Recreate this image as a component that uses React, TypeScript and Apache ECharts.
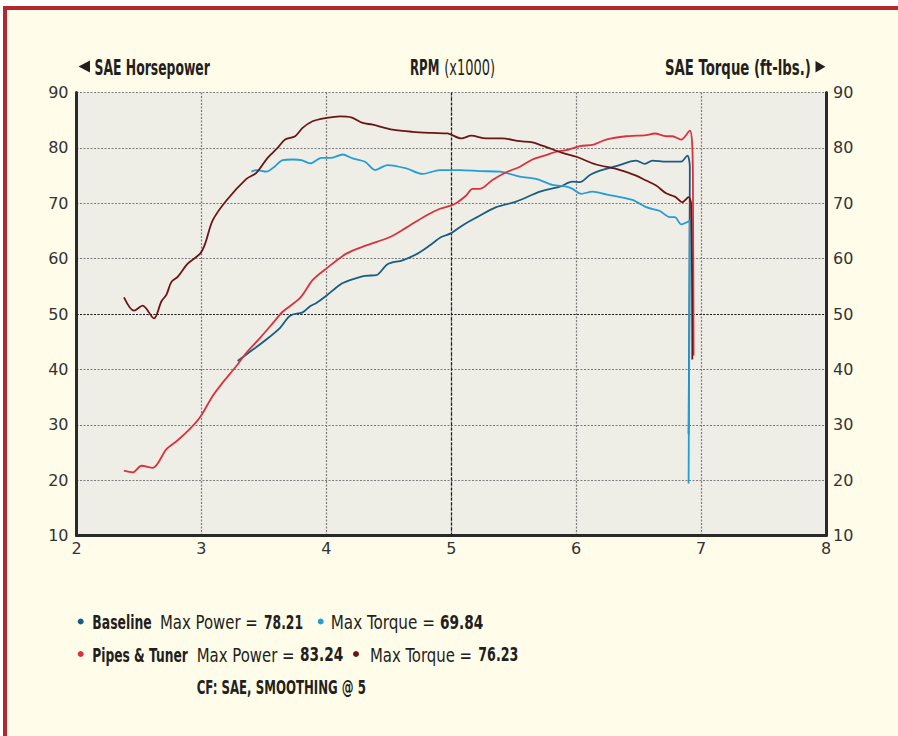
import React, { useEffect, useRef } from "react";
import * as echarts from "echarts";

// ---------- data ----------
const xTicksMin = 2;
const xTicksMax = 8;
const yTicksMin = 10;
const yTicksMax = 90;

const baselinePower: [number, number][] = [
  [3.29, 41.5], [3.36, 42.7], [3.52, 45.4], [3.63, 47.5], [3.71, 49.7], [3.81, 50.3],
  [3.87, 51.4], [3.92, 52.0], [4.0, 53.3], [4.11, 55.3], [4.19, 56.1], [4.31, 56.9],
  [4.4, 57.0], [4.49, 59.0], [4.61, 59.7], [4.73, 60.9], [4.83, 62.4], [4.92, 63.9],
  [5.0, 64.6], [5.09, 66.0], [5.2, 67.4], [5.36, 69.3], [5.52, 70.3], [5.71, 72.1],
  [5.87, 73.0], [5.97, 73.9], [6.03, 73.8], [6.11, 75.1], [6.19, 75.9], [6.32, 76.7],
  [6.48, 77.7], [6.55, 77.1], [6.61, 77.7], [6.72, 77.5], [6.84, 77.5], [6.89, 78.6],
  [6.91, 76.5], [6.9, 28.3],
];

const baselineTorque: [number, number][] = [
  [3.4, 75.7], [3.44, 76.0], [3.52, 75.7], [3.59, 76.7], [3.65, 77.8], [3.73, 77.9],
  [3.8, 77.8], [3.87, 77.2], [3.96, 78.2], [4.04, 78.2], [4.13, 78.8], [4.21, 78.1],
  [4.31, 77.5], [4.39, 76.0], [4.49, 76.9], [4.64, 76.3], [4.77, 75.3], [4.91, 76.0],
  [5.07, 76.0], [5.23, 75.8], [5.39, 75.7], [5.55, 74.8], [5.68, 74.4], [5.81, 73.3],
  [5.92, 73.0], [5.97, 72.6], [6.04, 71.7], [6.13, 72.1], [6.24, 71.6], [6.45, 70.6],
  [6.56, 69.3], [6.67, 68.6], [6.75, 67.5], [6.79, 67.5], [6.84, 66.2], [6.91, 66.9],
  [6.9, 19.4],
];

const tunerPower: [number, number][] = [
  [2.38, 21.7], [2.45, 21.4], [2.52, 22.6], [2.61, 22.2], [2.72, 25.6], [2.81, 27.2],
  [2.91, 29.3], [2.99, 31.4], [3.09, 35.2], [3.17, 37.6], [3.28, 40.6], [3.36, 43.0],
  [3.47, 45.7], [3.57, 48.3], [3.65, 50.4], [3.79, 52.9], [3.89, 56.1], [4.0, 58.2],
  [4.16, 60.9], [4.32, 62.4], [4.51, 63.9], [4.64, 65.6], [4.8, 67.8], [4.91, 69.0],
  [5.0, 69.6], [5.05, 70.2], [5.12, 71.4], [5.17, 72.6], [5.23, 72.6], [5.33, 74.2],
  [5.44, 75.6], [5.55, 76.6], [5.65, 77.9], [5.76, 78.7], [5.84, 79.3], [5.92, 79.6],
  [6.03, 80.3], [6.14, 80.6], [6.24, 81.5], [6.4, 82.1], [6.56, 82.3], [6.63, 82.6],
  [6.72, 82.1], [6.77, 82.1], [6.84, 81.5], [6.91, 83.1], [6.93, 80.0], [6.935, 72.3],
  [6.94, 42.5],
];

const tunerTorque: [number, number][] = [
  [2.38, 53.0], [2.46, 50.6], [2.53, 51.5], [2.62, 49.2], [2.68, 52.3], [2.72, 53.5],
  [2.76, 55.8], [2.81, 56.7], [2.89, 59.1], [2.99, 60.9], [3.03, 62.7], [3.09, 66.9],
  [3.2, 70.5], [3.36, 74.4], [3.44, 75.5], [3.53, 78.2], [3.61, 80.0], [3.67, 81.5],
  [3.75, 82.1], [3.81, 83.6], [3.89, 84.8], [4.0, 85.4], [4.11, 85.7], [4.2, 85.5],
  [4.29, 84.5], [4.37, 84.2], [4.53, 83.3], [4.69, 82.9], [4.85, 82.7], [4.97, 82.6],
  [5.08, 81.7], [5.16, 82.2], [5.28, 81.7], [5.41, 81.7], [5.55, 81.2], [5.65, 81.0],
  [5.79, 79.9], [5.89, 79.1], [6.0, 78.4], [6.16, 77.0], [6.32, 76.2], [6.48, 75.0],
  [6.56, 74.1], [6.64, 73.2], [6.72, 71.8], [6.79, 71.2], [6.85, 70.2], [6.9, 71.1],
  [6.92, 69.9], [6.93, 41.8],
];

const seriesNames = ["Baseline Power", "Baseline Torque", "Pipes & Tuner Power", "Pipes & Tuner Torque"];
const runNames = ["Baseline", "Pipes & Tuner"];
const maxPowerLabels = ["78.21", "83.24"];
const maxTorqueLabels = ["69.84", "76.23"];
const headerLeft = "SAE Horsepower";
const headerMidBold = "RPM";
const headerMidReg = "(x1000)";
const headerRight = "SAE Torque (ft-lbs.)";
const footnote = "CF: SAE, SMOOTHING @ 5";
const refLineX = 5;
const refLineY = 50;

// ---------- styles ----------
const C_BASE_POWER = "#185d84";
const C_BASE_TORQUE = "#239dd8";
const C_TUNER_POWER = "#d8333d";
const C_TUNER_TORQUE = "#6c1517";
const C_FRAME = "#b1282e";
const C_TEXT = "#231f20";
const NARROW = '"Liberation Sans Narrow", "DejaVu Sans Condensed", sans-serif';

let measureCtx: CanvasRenderingContext2D | null = null;
function measure(text: string, font: string) {
  if (!measureCtx) measureCtx = document.createElement("canvas").getContext("2d");
  measureCtx!.font = font;
  return measureCtx!.measureText(text).width;
}

function fitText(text: string, x: number, y: number, width: number, bold: boolean, size: number) {
  const font = `${bold ? "bold " : ""}${size}px ${NARROW}`;
  const w = measure(text, font) || width;
  return {
    type: "text",
    x,
    y,
    scaleX: width / w,
    scaleY: 1,
    silent: true,
    style: {
      text,
      font,
      fill: C_TEXT,
      textAlign: "left",
      textVerticalAlign: "middle",
      align: "left",
      verticalAlign: "middle",
    },
  };
}

function dot(x: number, y: number, color: string) {
  return { type: "circle", silent: true, shape: { cx: x, cy: y, r: 3 }, style: { fill: color } };
}

export default function App() {
  const ref = useRef<HTMLDivElement>(null);

  useEffect(() => {
    if (!ref.current) return;
    const chart = echarts.init(ref.current, undefined, { renderer: "svg" });

    const lineSeries = (name: string, data: [number, number][], color: string, extra: any = {}) => ({
      type: "line",
      name,
      data,
      smooth: 0.3,
      showSymbol: false,
      symbol: "none",
      lineStyle: { color, width: 1.8 },
      itemStyle: { color },
      z: 3,
      ...extra,
    });

    const graphic: any[] = [
      // frame
      { type: "rect", silent: true, shape: { x: 0, y: 0, width: 898, height: 6 }, style: { fill: "#ffffff" } },
      { type: "rect", silent: true, shape: { x: 0, y: 0, width: 3, height: 736 }, style: { fill: "#ffffff" } },
      { type: "rect", silent: true, shape: { x: 3, y: 6, width: 895, height: 4 }, style: { fill: C_FRAME } },
      { type: "rect", silent: true, shape: { x: 3, y: 6, width: 4, height: 730 }, style: { fill: C_FRAME } },
      // header
      { type: "polygon", silent: true, shape: { points: [[78.5, 66.5], [90, 60.5], [90, 72.5]] }, style: { fill: C_TEXT } },
      fitText(headerLeft, 94.5, 67, 115.5, true, 22),
      fitText(headerMidBold, 410, 67, 29.3, true, 22),
      fitText(headerMidReg, 444.3, 67, 50.7, false, 22),
      fitText(headerRight, 665, 67, 146, true, 22),
      { type: "polygon", silent: true, shape: { points: [[815.5, 61], [825.5, 66.8], [815.5, 72.6]] }, style: { fill: C_TEXT } },
      // legend line 1
      dot(80.7, 621.5, C_BASE_POWER),
      fitText(runNames[0], 92.3, 622, 59.4, true, 20),
      fitText("Max Power =", 160, 622, 98, false, 20),
      fitText(maxPowerLabels[0], 264, 622, 39, true, 20),
      dot(320.7, 621.5, C_BASE_TORQUE),
      fitText("Max Torque =", 330.7, 622, 104.3, false, 20),
      fitText(maxTorqueLabels[0], 440, 622, 43.3, true, 20),
      // legend line 2
      dot(80.7, 654, C_TUNER_POWER),
      fitText(runNames[1], 92.3, 654.5, 95.4, true, 20),
      fitText("Max Power =", 196.7, 654.5, 98, false, 20),
      fitText(maxPowerLabels[1], 300, 654.5, 43.3, true, 20),
      dot(356, 654, C_TUNER_TORQUE),
      fitText("Max Torque =", 370, 654.5, 102, false, 20),
      fitText(maxTorqueLabels[1], 478.3, 654.5, 40, true, 20),
      // footnote
      fitText(footnote, 196.7, 687, 169.3, true, 20),
    ];

    const axisLabel = { color: "#333333", fontFamily: '"DejaVu Sans", sans-serif', fontSize: 16 };
    const splitLine = { show: true, lineStyle: { color: "#7c7c7c", width: 1.2, type: [2, 1.5] } };
    const axisLine = { show: true, onZero: false, lineStyle: { color: "#2a2a2a", width: 3 } };

    chart.setOption({
      animation: false,
      backgroundColor: "#fffde9",
      grid: {
        left: 76.5,
        right: 72,
        top: 92.5,
        bottom: 200.5,
        show: true,
        backgroundColor: "#eeede6",
        borderWidth: 0,
      },
      xAxis: {
        type: "value",
        min: xTicksMin,
        max: xTicksMax,
        interval: 1,
        axisLine,
        axisTick: { show: false },
        axisLabel: { ...axisLabel, margin: 5 },
        splitLine,
      },
      yAxis: [
        {
          type: "value",
          min: yTicksMin,
          max: yTicksMax,
          interval: 10,
          position: "left",
          axisLine,
          axisTick: { show: false },
          axisLabel: { ...axisLabel, margin: 8 },
          splitLine,
        },
        {
          type: "value",
          min: yTicksMin,
          max: yTicksMax,
          interval: 10,
          position: "right",
          axisLine,
          axisTick: { show: false },
          axisLabel: { ...axisLabel, margin: 7 },
          splitLine: { show: false },
        },
      ],
      series: [
        lineSeries(seriesNames[0], baselinePower, C_BASE_POWER, {
          markLine: {
            silent: true,
            symbol: "none",
            label: { show: false },
            z: 2,
            data: [
              { xAxis: refLineX, lineStyle: { color: "#1a1a1a", width: 1.2, type: [3, 2] } },
              { yAxis: refLineY, lineStyle: { color: "#1a1a1a", width: 1.2, type: [2, 1.5] } },
            ],
          },
        }),
        lineSeries(seriesNames[1], baselineTorque, C_BASE_TORQUE),
        lineSeries(seriesNames[2], tunerPower, C_TUNER_POWER),
        lineSeries(seriesNames[3], tunerTorque, C_TUNER_TORQUE),
      ],
      graphic,
    });

    return () => chart.dispose();
  }, []);

  return <div ref={ref} style={{ position: "fixed", left: 0, top: 0, width: 898, height: 736 }} />;
}
